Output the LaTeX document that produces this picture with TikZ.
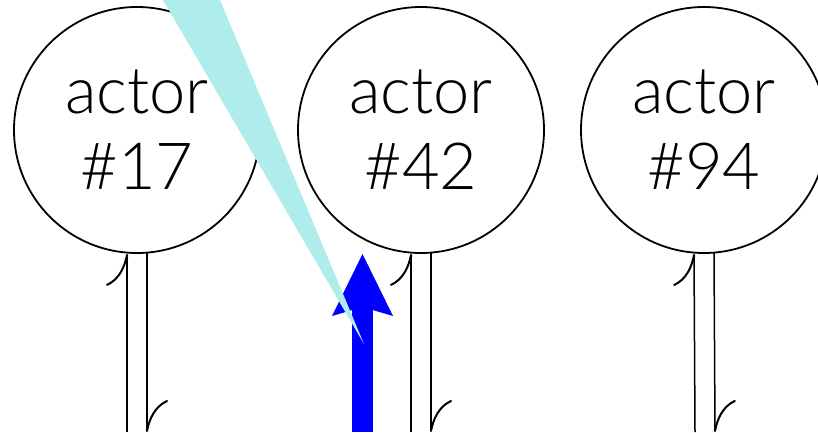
\documentclass[tikz,border=0pt]{standalone}
\usepackage{fontspec}
\setmainfont{Lato Light}
\usetikzlibrary{arrows.meta}
\definecolor{beam}{RGB}{175,236,236}

\begin{document}
\begin{tikzpicture}[x=1pt, y=1pt,
    actor/.style={circle, draw, line width=1.8pt, minimum size=246pt, inner sep=0pt,
      align=center, font=\fontsize{65}{76}\selectfont},
    wire/.style={line width=1.5pt, -{Computer Modern Rightarrow[left, length=32pt, width=42pt, line width=2pt]}}]
  \useasboundingbox (0,0) rectangle (818,432);
  \node[actor] (a17) at (137,302) {actor\\\#17};
  \node[actor] (a42) at (421,302) {actor\\\#42};
  \node[actor] (a94) at (704,302) {actor\\\#94};
  % in and out wires under each actor
  \foreach \n/\x in {17/137, 42/421, 94/705} {
    \coordinate (b\n) at (\x,0);
    \draw[wire] ([xshift=-10pt]b\n) -- ([xshift=-10pt]a\n.south);
    \draw[wire] ([xshift=10pt,yshift=1pt]a\n.south) -- ([xshift=10pt]b\n);
  }
  % message
  \coordinate (m0) at (362.5,0);
  \coordinate (m1) at (362.5,178);
  \draw[blue, line width=21pt, -{Stealth[length=62pt, width=61pt, inset=9pt, line width=0pt]}] (m0) -- (m1);
  % beam
  \coordinate (s1) at (163,432);
  \coordinate (s2) at (220,432);
  \coordinate (s0) at (364,88);
  \fill[beam] (s1) -- (s2) -- (s0) -- cycle;
\end{tikzpicture}
\end{document}
